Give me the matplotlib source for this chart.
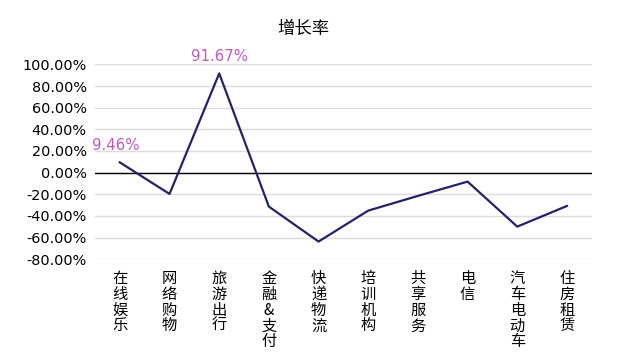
import matplotlib
matplotlib.use('Agg')
import matplotlib.pyplot as plt
from matplotlib.ticker import FuncFormatter

plt.rcParams['font.family'] = ['Noto Sans CJK SC', 'DejaVu Sans']

categories = ['在线娱乐', '网络购物', '旅游出行', '金融&支付', '快递物流',
              '培训机构', '共享服务', '电信', '汽车电动车', '住房租赁']
growth = [9.46, -19.7, 91.67, -31.4, -63.7, -35.1, -21.5, -8.3, -49.9, -30.8]
labelled = {0: '9.46%', 2: '91.67%'}

fig = plt.figure(figsize=(6.19, 3.62), dpi=100)
ax = fig.add_axes([0.1535, 0.284, 0.8025, 0.538])

x = list(range(len(categories)))
ax.plot(x, growth, color='#23226b', lw=1.6, zorder=3)

ax.set_xlim(-0.5, len(categories) - 0.5)
ax.set_ylim(-80, 100)
ax.set_yticks(range(-80, 101, 20))
ax.yaxis.set_major_formatter(FuncFormatter(lambda v, p: '%.2f%%' % v))
ax.grid(axis='y', color='#dcdcdc', lw=1)
ax.axhline(0, color='black', lw=1, zorder=2)
for s in ax.spines.values():
    s.set_visible(False)
ax.tick_params(axis='both', length=0)
ax.tick_params(axis='y', pad=6)
for t in ax.get_yticklabels():
    t.set_fontfamily('DejaVu Sans')
    t.set_fontsize(10.4)

ax.set_xticks(x)
ax.set_xticklabels(['\n'.join(c) for c in categories], fontsize=11,
                   va='top', linespacing=0.9)
ax.tick_params(axis='x', pad=8)

for i, txt in labelled.items():
    ax.annotate(txt, (x[i], growth[i]), xytext=(-3 if i == 0 else 0, 7),
                textcoords='offset points', ha='center', va='bottom',
                color='#c159c1', fontsize=10.8, family='DejaVu Sans')

fig.text(0.49, 0.92, '增长率', ha='center', va='center', fontsize=12.5,
         fontweight='medium')

fig.savefig('out.png', dpi=100)
